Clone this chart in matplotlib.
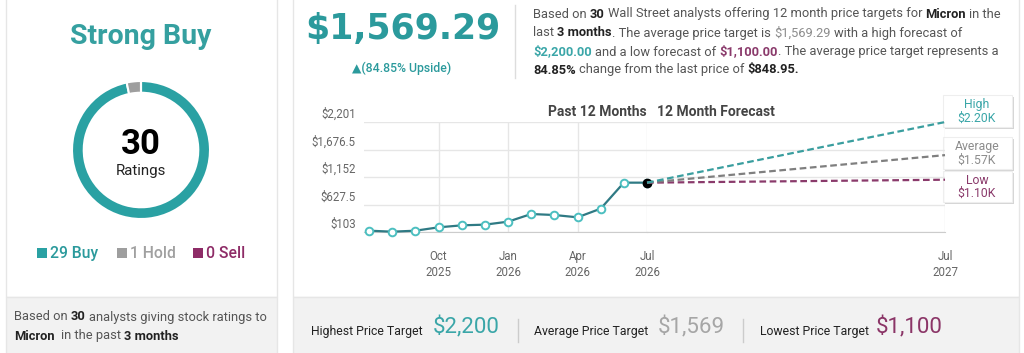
import matplotlib
matplotlib.use('Agg')
import matplotlib.pyplot as plt
from matplotlib.patches import Rectangle
from matplotlib.transforms import ScaledTranslation

plt.rcParams['font.family'] = ['Roboto', 'DejaVu Sans']

# analyst ratings
rating_names = ['Buy', 'Hold', 'Sell']
rating_counts = [29, 1, 0]
rating_colors = ['#2aa1a3', '#9e9e9e', '#8e2c67']

# monthly closing price, Jul 2025 .. Jul 2026
past_months = list(range(13))
past_prices = [128, 109, 128, 192, 230, 243, 300, 446, 427, 383, 548, 1044, 1044]
past_ticks = [3, 6, 9, 12]
past_ticklabels = ['Oct\n2025', 'Jan\n2026', 'Apr\n2026', 'Jul\n2026']

# 12 month forecast
forecast_names = ['High', 'Average', 'Low']
forecast_targets = [2200.00, 1569.29, 1100.00]
forecast_short = ['$2.20K', '$1.57K', '$1.10K']
forecast_colors = ['#3a9e9f', '#7f7f7f', '#8a3a6b']
forecast_text_colors = ['#3aa6a8', '#8c8c8c', '#8a3a6b']

y_ticks = [103, 627.5, 1152, 1676.5, 2201]
y_ticklabels = ['$103', '$627.5', '$1,152', '$1,676.5', '$2,201']

W, H = 1024, 353
fig = plt.figure(figsize=(W / 100, H / 100), dpi=100)
fig.patch.set_facecolor('white')

# background axes in pixel units (y down)
bg = fig.add_axes([0, 0, 1, 1])
bg.set_xlim(0, W)
bg.set_ylim(H, 0)
bg.axis('off')

TEAL = '#2b9a9c'
DARK = '#222222'
GREY = '#555555'

# panels
bg.add_patch(Rectangle((6, -5), 271, 302, fc='white', ec='#e6e6e6', lw=1))
bg.add_patch(Rectangle((6, 297), 271, 60, fc='#f2f2f2', ec='#e6e6e6', lw=1))
bg.add_patch(Rectangle((293, -5), 726, 302, fc='white', ec='#e6e6e6', lw=1))
bg.add_patch(Rectangle((293, 297), 726, 60, fc='#f2f2f2', ec='#e6e6e6', lw=1))

renderer = fig.canvas.get_renderer()


def space_width(size, weight):
    a = bg.text(0, 0, 'x x', fontsize=size, fontweight=weight)
    b = bg.text(0, 0, 'xx', fontsize=size, fontweight=weight)
    w = a.get_window_extent(renderer).width - b.get_window_extent(renderer).width
    a.remove()
    b.remove()
    return w


def rich(x, y, parts, size):
    for s, color, weight in parts:
        sw = space_width(size, weight)
        lead = len(s) - len(s.lstrip(' '))
        trail = len(s) - len(s.rstrip(' '))
        x += lead * sw
        t = bg.text(x, y, s.strip(' '), color=color, fontsize=size,
                    fontweight=weight, ha='left', va='center')
        x += t.get_window_extent(renderer).width + trail * sw
    return x


# ---- left panel ----
bg.text(141, 37, 'Strong Buy', ha='center', va='center', fontsize=20.5,
        fontweight='bold', color='#35a0a0')

dax = fig.add_axes([72 / W, (H - 219) / H, 138 / W, 138 / H])
dax.pie(rating_counts, colors=rating_colors, startangle=90, counterclock=False,
        wedgeprops=dict(width=0.17, edgecolor='white', linewidth=1.5))
dax.set_xlim(-1, 1)
dax.set_ylim(-1, 1)
dax.axis('off')
bg.text(141, 145, str(sum(rating_counts)), ha='center', va='center',
        fontsize=25, fontweight='bold', color='black')
bg.text(141, 171, 'Ratings', ha='center', va='center', fontsize=10.8, color=DARK)

legend_x = [37, 117, 193]
legend_text_colors = [TEAL, '#a0a0a0', '#8e2c67']
for lx, n, c, name, tc in zip(legend_x, rating_counts, rating_colors,
                              rating_names, legend_text_colors):
    bg.add_patch(Rectangle((lx, 248), 10, 10, fc=c, ec='none'))
    bg.text(lx + 13, 253.5, f'{n} {name}', ha='left', va='center',
            fontsize=11.3, fontweight='medium', color=tc)

S = 9.3
rich(14, 317, [('Based on ', GREY, 'normal'), ('30', DARK, 'bold'),
               (' analysts giving stock ratings to', GREY, 'normal')], S)
rich(14, 336, [('Micron', DARK, 'bold'), ('  in the past ', GREY, 'normal'),
               ('3 months', DARK, 'bold')], S)

# ---- header of right panel ----
bg.text(305, 29, '$1,569.29', ha='left', va='center', fontsize=25,
        fontweight='bold', color=TEAL, family='DejaVu Sans')
bg.text(402, 68, '\u25b2(84.85% Upside)', ha='center', va='center', fontsize=8.8,
        fontweight='medium', color=TEAL)
bg.plot([515, 515], [5, 78], color='#dddddd', lw=1)

P = 9.3
rich(533, 14, [('Based on ', GREY, 'normal'), ('30', DARK, 'bold'),
               (' Wall Street analysts offering 12 month price targets for ', GREY, 'normal'),
               ('Micron', DARK, 'bold'), (' in the', GREY, 'normal')], P)
rich(533, 33, [('last ', GREY, 'normal'), ('3 months', DARK, 'bold'),
               ('. The average price target is ', GREY, 'normal'),
               ('$1,569.29', '#8c8c8c', 'normal'),
               (' with a high forecast of', GREY, 'normal')], P)
rich(533, 52, [('$2,200.00', '#3aa6a8', 'bold'), (' and a low forecast of ', GREY, 'normal'),
               ('$1,100.00', '#8a3a6b', 'bold'),
               ('. The average price target represents a', GREY, 'normal')], P)
rich(533, 70, [('84.85%', DARK, 'bold'), (' change from the last price of ', GREY, 'normal'),
               ('$848.95.', DARK, 'bold')], P)

# ---- chart ----
top, bottom = 122, 232
ax1 = fig.add_axes([364 / W, (H - bottom) / H, (647 - 364) / W, (bottom - top) / H])
ax2 = fig.add_axes([647 / W, (H - bottom) / H, (945 - 647) / W, (bottom - top) / H])
for ax in (ax1, ax2):
    ax.set_ylim(y_ticks[0], y_ticks[-1])
    ax.set_yticks(y_ticks)
    ax.grid(True, color='#e6e6e6', lw=1)
    ax.set_axisbelow(True)
    for s in ('top', 'right', 'left'):
        ax.spines[s].set_visible(False)
    ax.spines['bottom'].set_color('#cccccc')
    ax.tick_params(length=0, labelsize=8.3, labelcolor='#666666', pad=6)
    ax.set_facecolor('none')

ax1.set_xlim(-0.22, 12)
ax1.set_xticks(past_ticks)
ax1.set_xticklabels(past_ticklabels, linespacing=1.25)
ax1.set_yticklabels(y_ticklabels)
ax1.tick_params(axis='x', pad=13)
off = ScaledTranslation(0, 9 / 100, fig.dpi_scale_trans)
for lab in ax1.get_yticklabels():
    lab.set_transform(lab.get_transform() + off)

ax2.set_xlim(0, 12)
ax2.set_xticks([12])
ax2.set_xticklabels(['Jul\n2027'], linespacing=1.25)
ax2.set_yticklabels([])
ax2.tick_params(axis='x', pad=13)

ax1.plot(past_months, past_prices, color='#2f7a84', lw=1.6, marker='o', ms=5.5,
         mfc='white', mec='#4cbfc0', mew=1.4, clip_on=False, zorder=3)

last = past_prices[-1]
for tgt, c in zip(forecast_targets[::-1], forecast_colors[::-1]):
    ax2.plot([0, 12], [last, tgt], color=c, lw=1.6, ls=(0, (3, 1.6)),
             clip_on=False, zorder=3)
ax1.plot([past_months[-1]], [last], 'o', color='black', ms=6, clip_on=False, zorder=5)

fig.text(647 / W, 1 - 112 / H, 'Past 12 Months', ha='right', va='center',
         fontsize=10, fontweight='bold', color='#444444')
fig.text(657 / W, 1 - 112 / H, '12 Month Forecast', ha='left', va='center',
         fontsize=10, fontweight='bold', color='#444444')

# forecast callouts
box_tops = [95, 137, 171]
box_heights = [32, 32, 31]
for name, short, tc, bt, bh in zip(forecast_names, forecast_short,
                                   forecast_text_colors, box_tops, box_heights):
    bg.add_patch(Rectangle((945, bt + 2), 69, bh, fc='#d5d5d5', ec='none', zorder=4))
    bg.add_patch(Rectangle((943, bt), 69, bh, fc='white', ec='#eeeeee', lw=0.8, zorder=5))
    bg.text(977, bt + bh * 0.3, name, ha='center', va='center', fontsize=8.8,
            color=tc, zorder=6)
    bg.text(977, bt + bh * 0.72, short, ha='center', va='center', fontsize=8.8,
            color=tc, zorder=6)

# ---- bottom summary band ----
summary_labels = ['Highest Price Target', 'Average Price Target', 'Lowest Price Target']
summary_values = ['$2,200', '$1,569', '$1,100']
summary_colors = ['#3aa6a8', '#a6a6a6', '#8b3567']
label_x = [311, 534, 760]
value_x = [433, 658, 876]
for lab, val, c, lx, vx in zip(summary_labels, summary_values, summary_colors,
                               label_x, value_x):
    bg.text(lx, 331, lab, ha='left', va='center', fontsize=8.8, color=DARK)
    bg.text(vx, 327, val, ha='left', va='center', fontsize=16, color=c)
for sx in (518, 743):
    bg.plot([sx, sx], [319, 342], color='#cccccc', lw=1)

fig.savefig('out.png', dpi=100, facecolor=fig.get_facecolor())
